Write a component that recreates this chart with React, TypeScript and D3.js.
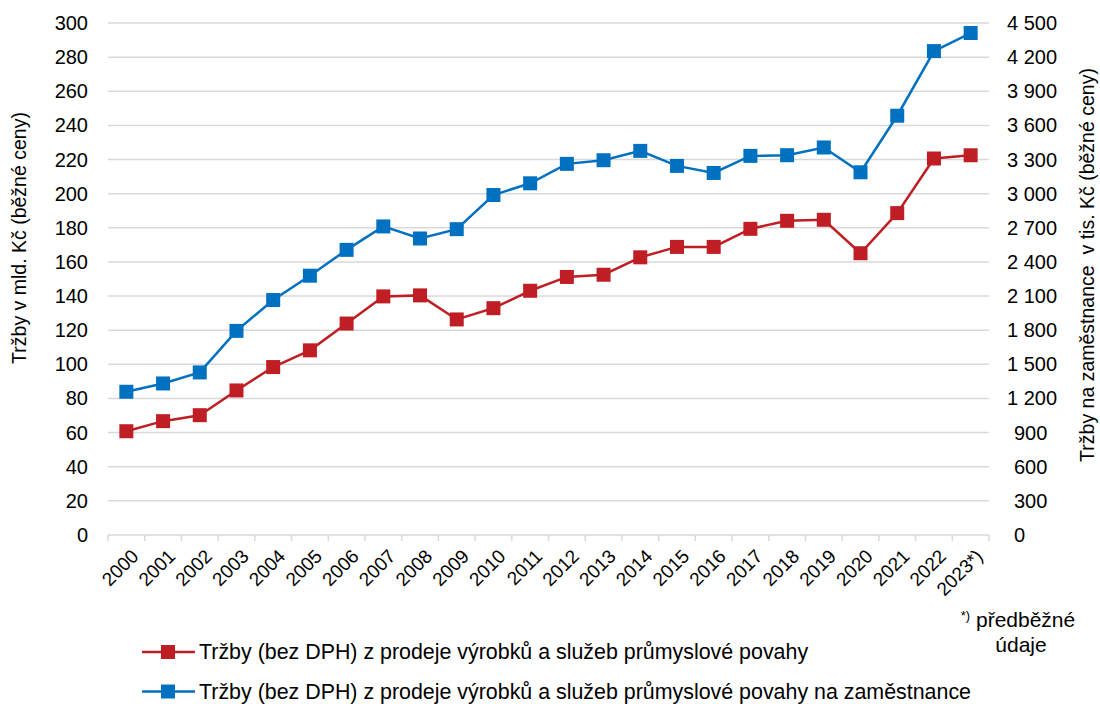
import * as d3 from 'd3';

const years = ['2000', '2001', '2002', '2003', '2004', '2005', '2006', '2007', '2008', '2009', '2010', '2011',
  '2012', '2013', '2014', '2015', '2016', '2017', '2018', '2019', '2020', '2021', '2022', '2023*)'];

// Tržby v mld. Kč (left axis)
const trzby = [60.8, 66.7, 70.2, 84.7, 98.4, 108.2, 123.9, 139.8, 140.4, 126.3, 132.9, 143.1,
  151.2, 152.5, 162.7, 168.8, 168.8, 179.4, 184.1, 184.7, 165.1, 188.6, 220.6, 222.5];

// Tržby na zaměstnance v tis. Kč (right axis)
const trzbyNaZam = [1259, 1332, 1429, 1794, 2065, 2279, 2506, 2712, 2606, 2688, 2988, 3091,
  3262, 3294, 3376, 3244, 3182, 3332, 3338, 3406, 3188, 3685, 4253, 4412];

const leftTicks = [0, 20, 40, 60, 80, 100, 120, 140, 160, 180, 200, 220, 240, 260, 280, 300];
const rightTicks = [0, 300, 600, 900, 1200, 1500, 1800, 2100, 2400, 2700, 3000, 3300, 3600, 3900, 4200, 4500];

const legendLabels = [
  'Tržby (bez DPH) z prodeje výrobků a služeb průmyslové povahy',
  'Tržby (bez DPH) z prodeje výrobků a služeb průmyslové povahy na zaměstnance',
];

const RED = '#BE1E24';
const BLUE = '#0070C0';
const GRID = '#D9D9D9';
const FONT = '"Liberation Sans", Arial, sans-serif';

const W = 1100;
const H = 704;
const left = 108;
const right = 989;
const top = 23;
const bottom = 535;

const fmt = (v: number) => (v >= 1000 ? `${Math.floor(v / 1000)} ${String(v % 1000).padStart(3, '0')}` : String(v));

export default function App() {
  const x = d3.scaleBand().domain(years).range([left, right]);
  const cx = (i: number) => (x(years[i]) as number) + x.bandwidth() / 2;
  const yL = d3.scaleLinear().domain([0, 300]).range([bottom, top]);
  const yR = d3.scaleLinear().domain([0, 4500]).range([bottom, top]);

  const lineL = d3.line<number>().x((_, i) => cx(i)).y(d => yL(d));
  const lineR = d3.line<number>().x((_, i) => cx(i)).y(d => yR(d));

  const ms = 14;
  const boundaries = years.map(y => x(y) as number).concat([right]);

  return (
    <svg width={W} height={H} style={{ position: 'absolute', left: 0, top: 0, background: '#fff' }}
      fontFamily={FONT} fill="#000">
      {/* gridlines */}
      {leftTicks.slice(1).map(t => (
        <line key={t} x1={left} x2={right} y1={yL(t)} y2={yL(t)} stroke={GRID} strokeWidth={1.5} />
      ))}
      {/* x axis */}
      <line x1={left} x2={right} y1={bottom} y2={bottom} stroke={GRID} strokeWidth={1.5} />
      {boundaries.map((b, i) => (
        <line key={i} x1={b} x2={b} y1={bottom} y2={bottom + 6} stroke={GRID} strokeWidth={1.5} />
      ))}

      {/* left ticks */}
      {leftTicks.map(t => (
        <text key={t} x={88} y={yL(t)} dy="0.35em" textAnchor="end" fontSize={20}>{t}</text>
      ))}
      {/* right ticks */}
      {rightTicks.map(t => (
        <text key={t} x={t >= 1000 ? 1007 : 1014} y={yR(t)} dy="0.35em" textAnchor="start" fontSize={20}>{fmt(t)}</text>
      ))}

      {/* x labels */}
      {years.map((yr, i) => (
        <text key={yr} transform={`translate(${cx(i) + 4},${bottom + 13}) rotate(-45)`} textAnchor="end"
          dy="0.7em" fontSize={19}>{yr}</text>
      ))}

      {/* axis titles */}
      <text transform="translate(26,238) rotate(-90)" textAnchor="middle" fontSize={19.5}>Tržby v mld. Kč (běžné ceny)</text>
      <text transform="translate(1094,265) rotate(-90)" textAnchor="middle" fontSize={19.5} style={{ whiteSpace: 'pre' }}>
        Tržby na zaměstnance  v tis. Kč (běžné ceny)
      </text>

      {/* series */}
      <path d={lineL(trzby) ?? ''} fill="none" stroke={RED} strokeWidth={2.5} />
      {trzby.map((v, i) => (
        <rect key={i} x={cx(i) - ms / 2} y={yL(v) - ms / 2} width={ms} height={ms} fill={RED} />
      ))}
      <path d={lineR(trzbyNaZam) ?? ''} fill="none" stroke={BLUE} strokeWidth={2.5} />
      {trzbyNaZam.map((v, i) => (
        <rect key={i} x={cx(i) - ms / 2} y={yR(v) - ms / 2} width={ms} height={ms} fill={BLUE} />
      ))}

      {/* footnote */}
      <text x={1018} y={627} textAnchor="middle" fontSize={21}>
        <tspan fontSize={13} dy="-7">*)</tspan>
        <tspan dy="7"> předběžné</tspan>
      </text>
      <text x={1021} y={652} textAnchor="middle" fontSize={21}>údaje</text>

      {/* legend */}
      {legendLabels.map((lab, i) => {
        const ly = 652 + i * 39.5;
        const c = i === 0 ? RED : BLUE;
        return (
          <g key={lab}>
            <line x1={142} x2={195} y1={ly} y2={ly} stroke={c} strokeWidth={2.5} />
            <rect x={168 - ms / 2} y={ly - ms / 2} width={ms} height={ms} fill={c} />
            <text x={199} y={ly} dy="0.35em" fontSize={21.4}>{lab}</text>
          </g>
        );
      })}
    </svg>
  );
}
